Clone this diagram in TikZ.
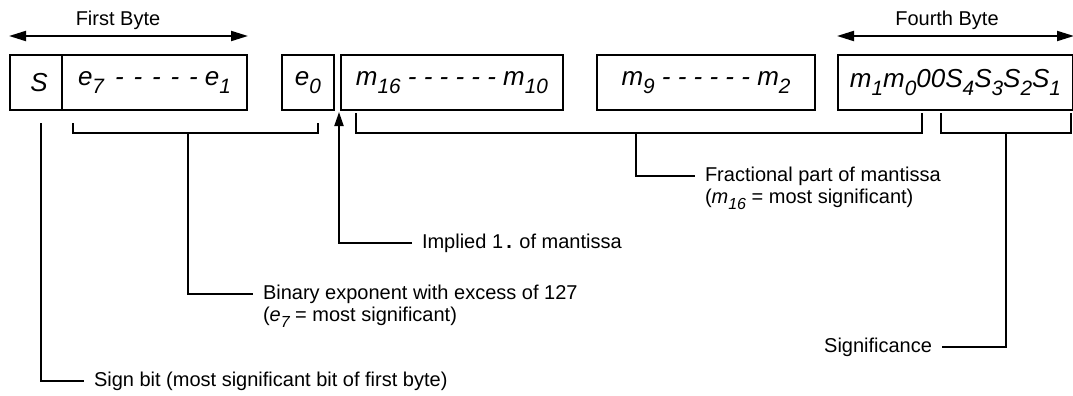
\documentclass[tikz,border=0pt]{standalone}
\usepackage{fontspec}
\usepackage{graphicx}
\setmainfont{Liberation Sans}
\usetikzlibrary{positioning,arrows.meta,calc}

% lowered, slightly smaller index
\newcommand\bsub[1]{\raisebox{-0.3em}{\scalebox{0.8}{#1}}}

\begin{document}
\begin{tikzpicture}[
    x=0.5pt, y=-0.5pt,
    font=\fontsize{10}{12}\selectfont,
    field/.style={draw, line width=1pt, minimum height=27.5pt, inner sep=0pt, font=\fontsize{13}{15}\selectfont\itshape},
    lbl/.style={inner sep=0pt, outer xsep=5pt, outer ysep=0pt, text height=7.5pt, text depth=2.5pt},
    brk/.style={line width=1pt},
    span/.style={{Triangle[length=8.5pt,width=5pt]}-{Triangle[length=8.5pt,width=5pt]}, line width=1pt},
    arr/.style={-{Triangle[length=7pt,width=4.5pt]}, line width=1pt}
]
\useasboundingbox (0,0) rectangle (1073,396);

% the four bytes
\node[field, minimum width=26pt] (sgn) at (36,82.5) {\hspace{3pt}S};
\node[field, minimum width=92.5pt] (expo) at (154.5,82.5) {e\bsub{7}\hspace{0.15em} - \hspace{0.1em}- \hspace{0.1em}- \hspace{0.1em}- \hspace{0.1em}- e\bsub{1}};
\node[field, minimum width=26pt] (elow) at (308,82.5) {e\bsub{0}};
\node[field, minimum width=111pt] (mhi) at (452,82.5) {m\bsub{16} - - - - - - m\bsub{10}};
\node[field, minimum width=109pt] (mmid) at (706,82.5) {m\bsub{9} - - - - - - m\bsub{2}};
\node[field, minimum width=117.5pt] (mlo) at (955.5,82.5) {m\bsub{1}m\bsub{0}00S\bsub{4}S\bsub{3}S\bsub{2}S\bsub{1}};

\node (firstlbl) at (118,20) {First Byte};
\node (fourthlbl) at (947,20) {Fourth Byte};
\draw[span] ([yshift=9pt]sgn.north west) -- ([yshift=9pt]expo.north east);
\draw[span] ([yshift=9pt]mlo.north west) -- ([yshift=9pt]mlo.north east);

% labels
\node[lbl, anchor=west] (sgnlbl) at (84,381) {Sign bit (most significant bit of first byte)};
\node[lbl, anchor=west] (explbl) at (253,294) {Binary exponent with excess of 127};
\node[lbl, below=1pt of explbl.south west, anchor=north west] (explbl2) {(\textit{e\bsub{7}} = most significant)};
\node[lbl, anchor=west] (onelbl) at (412,243) {Implied 1\,\textbf{.} of mantissa};
\node[lbl, anchor=west] (manlbl) at (695,176) {Fractional part of mantissa};
\node[lbl, below=1pt of manlbl.south west, anchor=north west] (manlbl2) {(\textit{m\bsub{16}} = most significant)};
\node[lbl, anchor=east] (siglbl) at (942,347) {Significance};

% bracket ends
\coordinate (sgnT) at (41,123);
\coordinate (expL) at (73,123);
\coordinate (expR) at (318,123);
\coordinate (expM) at (188,133);
\coordinate (onept) at (339,112);
\coordinate (manL) at (356,113);
\coordinate (manR) at (922,113);
\coordinate (manM) at (636,133);
\coordinate (sigL) at (941,113);
\coordinate (sigR) at (1071,113);
\coordinate (sigM) at (1006,133);

\draw[brk] (sgnT) |- (sgnlbl.west);
\draw[brk] (expL) -- ++(0,10) -| (expR);
\draw[brk] (expM) |- (explbl.west);
\draw[arr] (onelbl.west) -| (onept);
\draw[brk] (manL) -- ++(0,20) -| (manR);
\draw[brk] (manM) |- (manlbl.west);
\draw[brk] (sigL) -- ++(0,20) -| (sigR);
\draw[brk] (sigM) |- (siglbl.east);
\end{tikzpicture}
\end{document}
